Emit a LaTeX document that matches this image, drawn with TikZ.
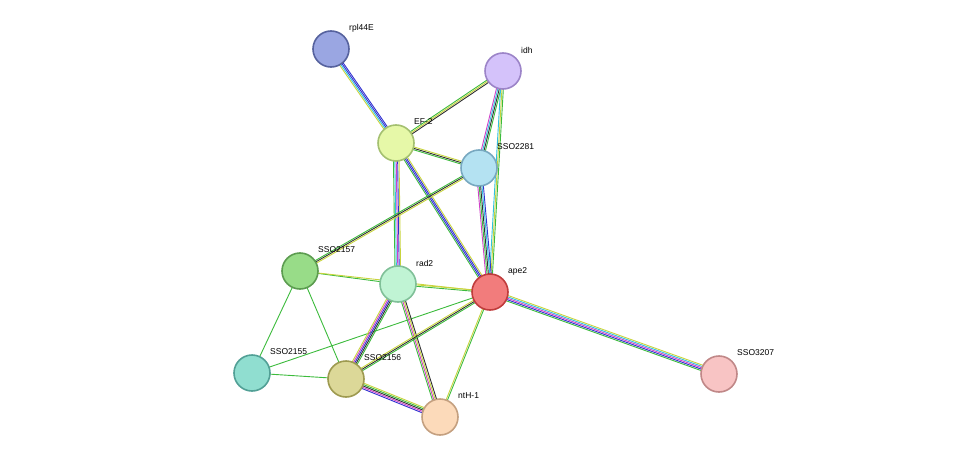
\documentclass[tikz,border=0pt]{standalone}
\usepackage{fontspec}
\setmainfont{Liberation Sans}
\usetikzlibrary{calc,backgrounds}
\definecolor{tm}{HTML}{C8D43C}
\definecolor{gr}{HTML}{3CBB3C}
\definecolor{bl}{HTML}{3030D0}
\definecolor{cy}{HTML}{30C0E0}
\definecolor{mg}{HTML}{D040C8}
\definecolor{bk}{HTML}{303030}
\tikzset{
 prot/.style={circle,minimum size=36pt,inner sep=0,line width=1.6pt},
 lab/.style={anchor=west,font=\fontsize{8.5}{10}\selectfont,inner sep=0}
}
\newcommand\edg[4]{%
 \foreach \c [count=\i] in {#4}{%
  \path let \p1=($(#2)-(#1)$), \n1={atan2(\y1,\x1)} in
   [draw=\c, line width=0.9pt, transform canvas={shift={(\n1+90:{(\i-(#3+1)/2)*1.4pt})}}] (#1.center) -- (#2.center);
 }}
\newcommand\pnode[5]{%
 \definecolor{f#1}{HTML}{#4}\definecolor{d#1}{HTML}{#5}%
 \node[prot,fill=f#1,draw=d#1] (#1) at (#2) {};
 \node[lab] (#1-l) at ($(#2)+(18,-21)$) {#3};}
\begin{document}
\begin{tikzpicture}[x=1pt,y=-1pt]
\useasboundingbox (0,0) rectangle (975,463);
\pnode{rpl}{331,49}{rpl44E}{9AA6E2}{56629E}
\pnode{idh}{503,71}{idh}{D4C2FA}{9C84C8}
\pnode{ef}{396,143}{EF-2}{E6F8A8}{A4C070}
\pnode{s81}{479,168}{SSO2281}{B4E2F2}{78A8C0}
\pnode{s57}{300,271}{SSO2157}{98DC88}{5C9C50}
\pnode{rad}{398,284}{rad2}{C0F4D4}{80C098}
\pnode{ape}{490,292}{ape2}{F27C7C}{C03C3C}
\pnode{s55}{252,373}{SSO2155}{90DED0}{52A096}
\pnode{s56}{346,379}{SSO2156}{DCD898}{9E9A50}
\pnode{nth}{440,417}{ntH-1}{FCDABA}{C4A080}
\pnode{s07}{719,374}{SSO3207}{F8C4C4}{C08888}
\begin{pgfonlayer}{background}
\edg{rpl}{ef}{4}{tm,cy,bl,bl}
\edg{ef}{ape}{4}{gr,bl,bl,tm}
\edg{idh}{ef}{3}{gr,tm,bk}
\edg{idh}{s81}{4}{mg,cy,bk,gr}
\edg{idh}{ape}{3}{cy,tm,gr}
\edg{ef}{s81}{3}{gr,bk,tm}
\edg{ef}{rad}{5}{gr,cy,mg,bl,tm}
\edg{s81}{ape}{5}{mg,gr,bk,cy,bl}
\edg{s81}{s57}{3}{gr,bk,tm}
\edg{s57}{rad}{1}{gr}
\edg{s57}{ape}{1}{tm}
\edg{rad}{ape}{2}{gr,tm}
\edg{s57}{s55}{1}{gr}
\edg{s57}{s56}{1}{gr}
\edg{s55}{s56}{1}{gr}
\edg{s55}{ape}{1}{gr}
\edg{rad}{s56}{5}{tm,mg,bl,bk,gr}
\edg{rad}{nth}{4}{gr,mg,tm,bk}
\edg{s56}{nth}{5}{bl,mg,bk,gr,tm}
\edg{s56}{ape}{3}{gr,bk,tm}
\edg{ape}{nth}{2}{tm,gr}
\edg{ape}{s07}{5}{gr,bl,mg,cy,tm}
\end{pgfonlayer}
\end{tikzpicture}
\end{document}
